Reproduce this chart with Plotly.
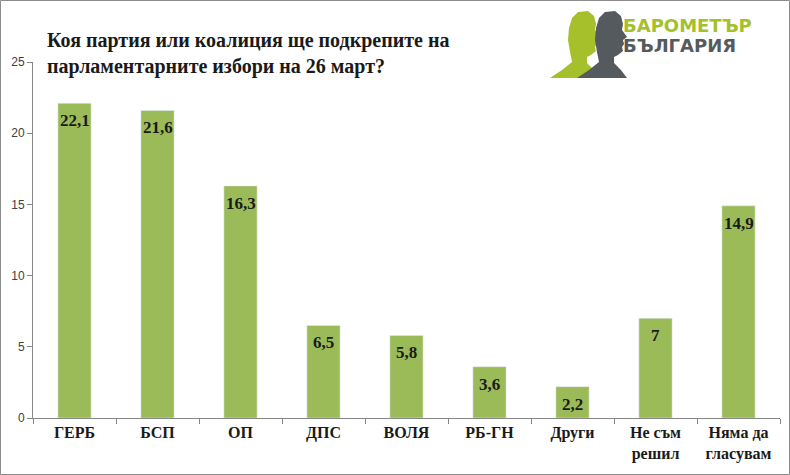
##poll bar chart - Barometer Bulgaria##

import plotly.graph_objects as go

#data
parties = ['ГЕРБ', 'БСП', 'ОП', 'ДПС', 'ВОЛЯ', 'РБ-ГН', 'Други',
           'Не съм<br>решил', 'Няма да<br>гласувам']
support = [22.1, 21.6, 16.3, 6.5, 5.8, 3.6, 2.2, 7, 14.9]
y_ticks = [0, 5, 10, 15, 20, 25]

title = "Коя партия или коалиция ще подкрепите на<br>парламентарните избори на 26 март?"

#page geometry in pixels (used for the logo and frame)
W, H = 790, 475
L, R, T, B = 33, 10, 62, 57
pw, ph = W - L - R, H - T - B


def px(x):
    return (x - L) / pw


def py(y):
    return (H - B - y) / ph


def head_path(dx, dy):
    #rough profile silhouette facing right
    pts = [(578, 12), (588, 11), (594, 16), (596, 24), (595, 30), (600, 37),
           (596, 40), (597, 44), (595, 47), (596, 51), (591, 55), (587, 57),
           (587, 63), (594, 70), (600, 78), (550, 78), (562, 70), (572, 62),
           (570, 52), (568, 40), (569, 28), (572, 18)]
    path = ''
    for i, (x, y) in enumerate(pts):
        path += ('M' if i == 0 else 'L') + f'{px(x + dx):.4f},{py(y + dy):.4f} '
    return path + 'Z'


fig = go.Figure(go.Bar(x=parties, y=support, marker_color='#9BBB59'))

#value labels just inside the top of each bar (comma decimals)
for name, v in zip(parties, support):
    fig.add_annotation(x=name, y=v, text=f'{v:g}'.replace('.', ','),
                       yanchor='top', yshift=-6, showarrow=False,
                       font=dict(family='Liberation Serif', size=17, color='#1a1a1a',
                                 weight='bold'))

fig.update_layout(
    width=W, height=H,
    margin=dict(l=L, r=R, t=T, b=B),
    paper_bgcolor='white', plot_bgcolor='white',
    bargap=0.6, showlegend=False,
    font=dict(family='Liberation Sans', color='#404040'),
)

fig.update_yaxes(range=[0, 25], tickvals=y_ticks, showgrid=False,
                 showline=True, linecolor='#868686', linewidth=1,
                 ticks='outside', ticklen=5, tickcolor='#868686',
                 tickfont=dict(size=12, color='#404040'))
fig.update_xaxes(showgrid=False, showline=True, linecolor='#868686', linewidth=1,
                 ticks='outside', ticklen=5, tickcolor='#868686', tickson='boundaries',
                 tickfont=dict(family='Liberation Serif', size=16, color='#1a1a1a',
                               weight='bold'))

#title
fig.add_annotation(text=title, xref='paper', yref='paper', x=px(45), y=py(27),
                   xanchor='left', yanchor='top', align='left', showarrow=False,
                   font=dict(family='Liberation Serif', size=20, color='#1a1a1a',
                             weight='bold'))

#logo
fig.add_shape(type='path', path=head_path(0, 0), xref='paper', yref='paper',
              fillcolor='#a6c02b', line_width=0)
fig.add_shape(type='path', path=head_path(27, 0), xref='paper', yref='paper',
              fillcolor='#545a5e', line_width=0)
fig.add_annotation(text='БАРОМЕТЪР', xref='paper', yref='paper', x=px(621), y=py(26),
                   xanchor='left', yanchor='middle', showarrow=False,
                   font=dict(family='DejaVu Sans', size=18, color='#a6c02b', weight='bold'))
fig.add_annotation(text='БЪЛГАРИЯ', xref='paper', yref='paper', x=px(621), y=py(46),
                   xanchor='left', yanchor='middle', showarrow=False,
                   font=dict(family='DejaVu Sans', size=18, color='#545a5e', weight='bold'))

#frame around the picture
fig.add_shape(type='rect', xref='paper', yref='paper',
              x0=px(0.5), x1=px(W - 0.5), y0=py(H - 0.5), y1=py(0.5),
              line=dict(color='#8c8c8c', width=1))

#drop the page margin so the figure sits at the window corner
fig.write_html('out.html', config={'displayModeBar': False},
               post_script="document.body.style.margin='0';")
